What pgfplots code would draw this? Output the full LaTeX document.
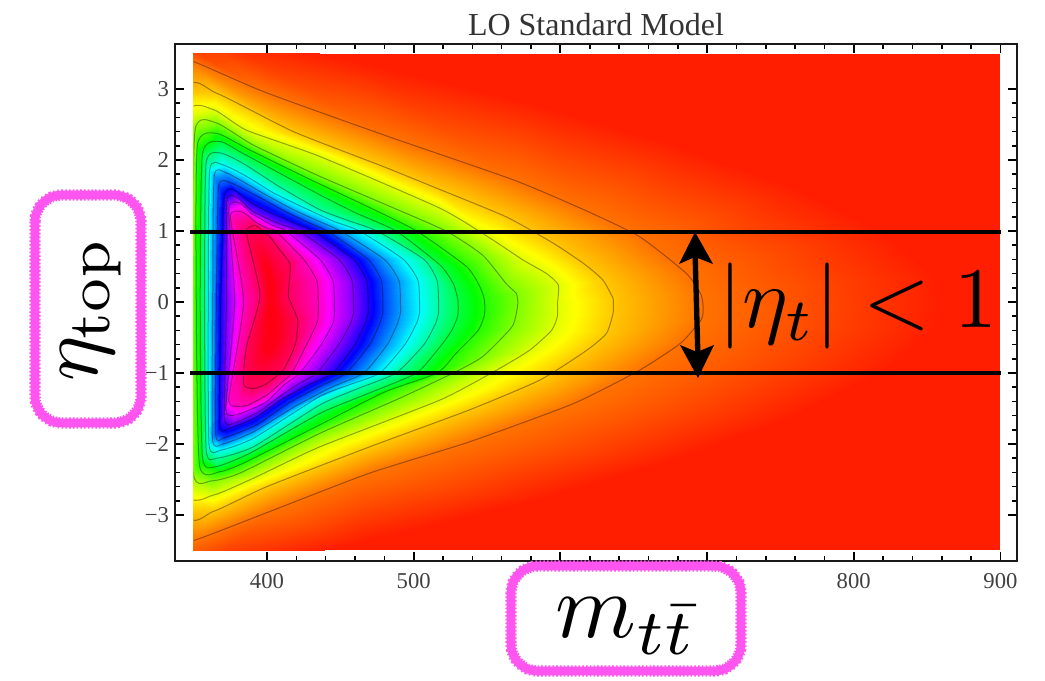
\documentclass[border=0pt]{standalone}
\usepackage{fontspec}
\usepackage{pgfplots}
\usepackage{pgfplotstable}
\pgfplotsset{compat=1.18}
\newfontfamily\timesf{Liberation Serif}
\definecolor{hotpink}{RGB}{255,85,240}
\definecolor{rootred}{RGB}{255,30,0}
% Closed iso-level rings, outermost first: m eta level
\pgfplotstableread[row sep=\\]{
m eta v\\
860 0 0\\855 .4 0\\820 1 0\\760 1.6 0\\680 2.2 0\\580 2.8 0\\460 3.4 0\\350 3.9 0\\320 3.9 0\\300 3 0\\300 0 0\\300 -3 0\\320 -3.9 0\\350 -3.9 0\\460 -3.4 0\\580 -2.8 0\\680 -2.2 0\\760 -1.6 0\\820 -1 0\\855 -.4 0\\860 0 0\\
697.4 -.09 .0625\\696 .1 .0625\\686 .4 .0625\\654 .92 .0625\\616 1.3 .0625\\568 1.72 .0625\\480 2.35 .0625\\398 2.96 .0625\\350 3.385 .0625\\330 3.45 .0625\\320 0 .0625\\330 -3.4 .0625\\350 -3.36 .0625\\402 -2.95 .0625\\470 -2.41 .0625\\538 -1.97 .0625\\609 -1.43 .0625\\654 -.96 .0625\\682 -.58 .0625\\696 -.25 .0625\\697.4 -.09 .0625\\
636 .05 .125\\629 .31 .125\\616 .54 .125\\595 .83 .125\\563 1.2 .125\\516 1.6 .125\\479 1.91 .125\\418 2.4 .125\\365.7 2.94 .125\\345 2.96 .125\\325 0 .125\\345 -2.94 .125\\363.4 -2.95 .125\\400 -2.6 .125\\470 -2.04 .125\\538 -1.52 .125\\586 -1.1 .125\\618 -.68 .125\\631.5 -.44 .125\\636 -.15 .125\\636 .05 .125\\
598 -.02 .1875\\598.6 .24 .1875\\590.6 .4 .1875\\574.7 .59 .1875\\552 .9 .1875\\518 1.32 .1875\\436 2.05 .1875\\386 2.42 .1875\\363.4 2.71 .1875\\345 2.62 .1875\\330 0 .1875\\345 -2.65 .1875\\363.4 -2.72 .1875\\393 -2.46 .1875\\436 -2.04 .1875\\518 -1.38 .1875\\556.5 -.96 .1875\\579 -.68 .1875\\594 -.4 .1875\\598 -.2 .1875\\598 -.02 .1875\\
571 0 .25\\570 .12 .25\\563 .26 .25\\547 .66 .25\\522 1 .25\\480 1.38 .25\\436 1.77 .25\\390.7 2.21 .25\\365.7 2.52 .25\\351 2.42 .25\\349 0 .25\\349.8 -2.41 .25\\362 -2.52 .25\\381.6 -2.41 .25\\436 -1.85 .25\\490 -1.36 .25\\527 -1 .25\\547 -.77 .25\\567 -.35 .25\\570.6 -.09 .25\\571 0 .25\\
548.6 -.09 .3125\\548 .05 .3125\\545 .22 .3125\\536 .5 .3125\\502 1 .3125\\470 1.33 .3125\\430 1.72 .3125\\388.4 2.14 .3125\\365.7 2.375 .3125\\352.5 2.2 .3125\\351.8 0 .3125\\354 -2.3 .3125\\368 -2.39 .3125\\386 -2.25 .3125\\436 -1.73 .3125\\480 -1.27 .3125\\516 -1 .3125\\529 -.72 .3125\\544 -.4 .3125\\548 -.2 .3125\\548.6 -.09 .3125\\
530.4 -.07 .375\\530 .05 .375\\527 .26 .375\\518 .52 .375\\488 1 .375\\460 1.26 .375\\436 1.51 .375\\383.9 2.09 .375\\368 2.26 .375\\356 2.08 .375\\354.5 0 .375\\356 -2.18 .375\\365 -2.32 .375\\388.4 -2.13 .375\\436 -1.57 .375\\470 -1.28 .375\\502 -1 .375\\518 -.63 .375\\526 -.4 .375\\530 -.2 .375\\530.4 -.07 .375\\
517 -.05 .4375\\516 .3 .4375\\507 .6 .4375\\475 1 .4375\\455 1.15 .4375\\436 1.3 .4375\\408.8 1.62 .4375\\383.9 1.95 .4375\\368 2.1 .4375\\358.5 1.95 .4375\\357.5 0 .4375\\358.5 -2.08 .4375\\366 -2.2 .4375\\390.7 -2.04 .4375\\436 -1.45 .4375\\462 -1.22 .4375\\488 -1 .4375\\507 -.6 .4375\\515 -.3 .4375\\517 -.15 .4375\\517 -.05 .4375\\
504 -.05 .5\\503 .3 .5\\493 .6 .5\\463 1 .5\\445 1.14 .5\\425 1.33 .5\\405 1.53 .5\\386 1.77 .5\\370 1.93 .5\\361 1.86 .5\\360 0 .5\\360.5 -2 .5\\368 -2.09 .5\\390.7 -1.92 .5\\436 -1.33 .5\\457 -1.16 .5\\477 -1 .5\\494 -.6 .5\\502 -.3 .5\\504 -.15 .5\\504 -.05 .5\\
491 -.05 .5625\\490 .3 .5625\\480 .6 .5625\\450 1 .5625\\435 1.14 .5625\\418 1.3 .5625\\400 1.5 .5625\\381.6 1.72 .5625\\372 1.82 .5625\\364 1.77 .5625\\363 0 .5625\\362.8 -1.92 .5625\\370 -2 .5625\\390.7 -1.83 .5625\\420 -1.46 .5625\\444 -1.2 .5625\\466 -1 .5625\\482 -.6 .5625\\489 -.3 .5625\\491 -.15 .5625\\491 -.05 .5625\\
479 -.05 .625\\478 .3 .625\\469 .6 .625\\441 1 .625\\428 1.12 .625\\412 1.28 .625\\398 1.44 .625\\385 1.58 .625\\375 1.68 .625\\367 1.62 .625\\365.5 0 .625\\365 -1.85 .625\\371 -1.91 .625\\393 -1.73 .625\\415 -1.42 .625\\435 -1.2 .625\\454 -1 .625\\470 -.6 .625\\477 -.3 .625\\479 -.15 .625\\479 -.05 .625\\
469 -.05 .6875\\468 .3 .6875\\459 .6 .6875\\431.5 1 .6875\\420 1.1 .6875\\410 1.19 .6875\\400 1.28 .6875\\389 1.4 .6875\\377 1.58 .6875\\371 1.48 .6875\\368.5 0 .6875\\368 -1.73 .6875\\374 -1.78 .6875\\391 -1.64 .6875\\410 -1.37 .6875\\428 -1.17 .6875\\445 -1 .6875\\460 -.6 .6875\\467 -.3 .6875\\469 -.15 .6875\\469 -.05 .6875\\
459 -.05 .75\\458 .3 .75\\449 .6 .75\\422 1 .75\\413 1.07 .75\\405 1.13 .75\\398 1.2 .75\\390 1.28 .75\\379 1.48 .75\\372.5 1.41 .75\\372.5 0 .75\\371 -1.62 .75\\377 -1.71 .75\\395 -1.54 .75\\408 -1.34 .75\\421 -1.16 .75\\434 -1 .75\\449 -.6 .75\\457 -.3 .75\\459 -.15 .75\\459 -.05 .75\\
446 -.05 .8125\\445 .3 .8125\\436 .6 .8125\\413 1 .8125\\406 1.06 .8125\\400 1.12 .8125\\395 1.18 .8125\\389 1.25 .8125\\381.6 1.39 .8125\\374 1.32 .8125\\378 0 .8125\\372 -1.5 .8125\\378 -1.59 .8125\\386 -1.54 .8125\\400 -1.4 .8125\\412 -1.16 .8125\\422.5 -1 .8125\\437 -.6 .8125\\445 -.3 .8125\\446 -.15 .8125\\446 -.05 .8125\\
435 -.05 .875\\434 .3 .875\\425 .6 .875\\406 1 .875\\401 1.03 .875\\396 1.08 .875\\392 1.13 .875\\388 1.2 .875\\382.7 1.27 .875\\375 1.2 .875\\384 0 .875\\374 -1.36 .875\\380.4 -1.47 .875\\387.3 -1.45 .875\\400 -1.31 .875\\410 -1.13 .875\\417 -1 .875\\427 -.6 .875\\434 -.3 .875\\435 -.15 .875\\435 -.05 .875\\
414.5 .08 .9375\\415 .25 .9375\\415.7 .54 .9375\\408 .75 .9375\\402 .92 .9375\\397.5 .99 .9375\\395 1.04 .9375\\393 1.07 .9375\\391.8 1.08 .9375\\386 .98 .9375\\395.2 .1 .9375\\386 -.63 .9375\\383.9 -1.15 .9375\\390.7 -1.22 .9375\\399.8 -1.15 .9375\\411 -.96 .9375\\417 -.72 .9375\\420 -.54 .9375\\421 -.25 .9375\\418 -.1 .9375\\414.5 .08 .9375\\
404 0 .985\\404 .1 .985\\404 .2 .985\\404 .3 .985\\403 .4 .985\\402 .45 .985\\401 .5 .985\\400 .52 .985\\399 .5 .985\\399 .35 .985\\401 -.05 .985\\399 -.4 .985\\398 -.6 .985\\400 -.7 .985\\402 -.68 .985\\404 -.62 .985\\406 -.5 .985\\407 -.35 .985\\406 -.2 .985\\405 -.08 .985\\404 0 .985\\
402 -.05 .99\\402 -.05 .99\\402 -.05 .99\\402 -.05 .99\\402 -.05 .99\\402 -.05 .99\\402 -.05 .99\\402 -.05 .99\\402 -.05 .99\\402 -.05 .99\\402 -.05 .99\\402 -.05 .99\\402 -.05 .99\\402 -.05 .99\\402 -.05 .99\\402 -.05 .99\\402 -.05 .99\\402 -.05 .99\\402 -.05 .99\\402 -.05 .99\\402 -.05 .99\\
}\rings
\pgfplotsset{contourline/.style={smooth,tension=.35,no marks,draw=black,draw opacity=.36,line width=.75pt}}
\begin{document}
\begin{tikzpicture}
\useasboundingbox (0,0) rectangle (783.75pt,510.75pt);
\begin{axis}[
  at={(131.25pt,90pt)},anchor=south west,
  scale only axis,width=631.5pt,height=387.75pt,
  xmin=337.3,xmax=911.3,ymin=-3.648,ymax=3.634,
  xtick={400,500,600,700,800,900},
  ytick={-3,-2,-1,0,1,2,3},
  xticklabels={400,500,,,800,900},
  yticklabels={−3,−2,−1,0,1,2,3},
  minor x tick num=4,minor y tick num=4,
  tick align=inside,
  major tick length=7pt,minor tick length=3.6pt,
  every major tick/.style={black,line width=1.3pt},
  every minor tick/.style={black,line width=1.2pt},
  axis line style={line width=2pt,black!90},
  tick label style={font=\timesf\fontsize{17}{17}\selectfont,text=black!75},
  xticklabel style={yshift=-6pt},
  yticklabel style={xshift=-1pt},
  axis on top,
  colormap={huecycle}{rgb255(0cm)=(255,30,0); rgb255(1cm)=(255,255,0); rgb255(2cm)=(0,255,0); rgb255(3cm)=(0,255,255); rgb255(4cm)=(0,0,255); rgb255(5cm)=(255,0,255); rgb255(6cm)=(255,0,0)},
  point meta min=0,point meta max=1,
]
\clip (axis cs:350,-3.5) rectangle (axis cs:900,3.5);
\addplot[draw=none,fill=rootred] coordinates {(350,-3.5)(900,-3.5)(900,3.5)(350,3.5)} --cycle;
\addplot[surf,shader=interp,mesh/cols=21,point meta=\thisrow{v}] table[x=m,y=eta] {\rings};
\addplot[contourline,skip coords between index={0}{21},skip coords between index={42}{400}] table[x=m,y=eta] {\rings};
\addplot[contourline,skip coords between index={0}{42},skip coords between index={63}{400}] table[x=m,y=eta] {\rings};
\addplot[contourline,skip coords between index={0}{63},skip coords between index={84}{400}] table[x=m,y=eta] {\rings};
\addplot[contourline,skip coords between index={0}{84},skip coords between index={105}{400}] table[x=m,y=eta] {\rings};
\addplot[contourline,skip coords between index={0}{105},skip coords between index={126}{400}] table[x=m,y=eta] {\rings};
\addplot[contourline,skip coords between index={0}{126},skip coords between index={147}{400}] table[x=m,y=eta] {\rings};
\addplot[contourline,skip coords between index={0}{147},skip coords between index={168}{400}] table[x=m,y=eta] {\rings};
\addplot[contourline,skip coords between index={0}{168},skip coords between index={189}{400}] table[x=m,y=eta] {\rings};
\addplot[contourline,skip coords between index={0}{189},skip coords between index={210}{400}] table[x=m,y=eta] {\rings};
\addplot[contourline,skip coords between index={0}{210},skip coords between index={231}{400}] table[x=m,y=eta] {\rings};
\addplot[contourline,skip coords between index={0}{231},skip coords between index={252}{400}] table[x=m,y=eta] {\rings};
\addplot[contourline,skip coords between index={0}{252},skip coords between index={273}{400}] table[x=m,y=eta] {\rings};
\addplot[contourline,skip coords between index={0}{273},skip coords between index={294}{400}] table[x=m,y=eta] {\rings};
\addplot[contourline,skip coords between index={0}{294},skip coords between index={315}{400}] table[x=m,y=eta] {\rings};
\addplot[contourline,skip coords between index={0}{315},skip coords between index={336}{400}] table[x=m,y=eta] {\rings};
\end{axis}
\begin{scope}[x=.75pt,y=-.75pt,shift={(0,510.75pt)}]
  \node[font=\timesf\fontsize{24}{24}\selectfont,text=black!80] at (596,25) {LO Standard Model};
  \draw[black,line width=3.6pt] (190,232) -- (1001,232);
  \draw[black,line width=3.6pt] (190,373) -- (1001,373);
  \draw[black,line width=4pt] (695,250) -- (698,360);
  \fill[black] (695,232) -- (713,264) -- (695,257) -- (679,264) -- cycle;
  \fill[black] (698,378) -- (680,345) -- (697,352) -- (714,345) -- cycle;
  \node[scale=6.45] at (858,306) {$|\eta_t| < 1$};
  \draw[hotpink,fill=white,line width=6.5pt,rounded corners=20pt] (35,195) rectangle (141,423);
  \draw[hotpink,line width=8.5pt,dash pattern=on 1.2pt off 1.6pt,rounded corners=20pt] (35,195) rectangle (141,423);
  \draw[hotpink,fill=white,line width=6.5pt,rounded corners=20pt] (511,566) rectangle (741,671);
  \draw[hotpink,line width=8.5pt,dash pattern=on 1.2pt off 1.6pt,rounded corners=20pt] (511,566) rectangle (741,671);
  \node[scale=6.4,rotate=90] at (91,309) {$\eta_{\mathrm{top}}$};
  \node[scale=6.9] at (626,626) {$m_{t\bar t}$};
\end{scope}
\end{tikzpicture}
\end{document}
